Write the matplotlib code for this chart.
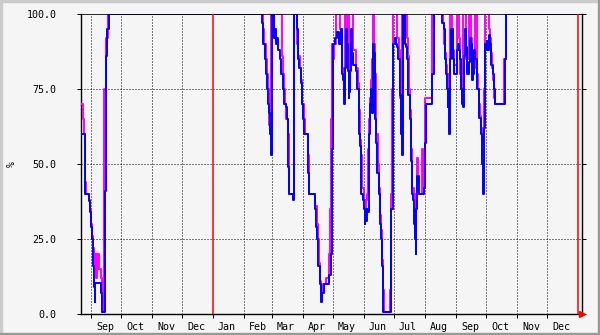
import numpy as np
import pandas as pd
import matplotlib
matplotlib.use("Agg")
import matplotlib.pyplot as plt
from matplotlib.patches import Rectangle

# time range of the graph
start = pd.Timestamp("2012-08-22")
end = pd.Timestamp("2014-01-05")

# blue series: day offset from start, value (%)
blue_days = [0, 3.5, 4, 7.7, 8.5, 9.7, 10.5, 11.7, 12.5, 13.5, 14.3, 19.7, 21, 23.7, 25, 26.3, 27.7,
             180.7, 182, 184, 185, 186, 187.3, 188, 189, 190, 190.7, 192.7, 194, 195, 196, 197.3, 198.7,
             200, 202, 203.3, 204.7, 206, 206.7, 207.3, 208, 212.3, 213.3, 216, 216.7, 217.3, 218.3,
             219.7, 220.7, 222.3, 223.3, 226.7, 227.3, 228, 234, 235.3, 236.3, 237.3, 238.7, 240, 241.3,
             243.3, 248, 249.7, 251, 251.7, 254.3, 256.3, 258.3, 259.7, 260.7, 261.3, 262.3, 263, 264,
             265, 266.3, 267, 267.7, 268.3, 269, 269.7, 270.3, 271, 271.7, 275, 276.3, 277.7, 278.3, 279,
             279.7, 280.3, 282.3, 283, 283.7, 284.3, 285, 285.7, 286.3, 287.7, 288.3, 289, 289.7, 290.3,
             291, 291.7, 292.3, 293, 293.7, 294.3, 295, 296.3, 297.7, 299, 300.3, 301, 301.7, 302.3,
             309.7, 310.3, 311.7, 312.3, 313.7, 315, 316, 317.3, 318.7, 319.7, 320.3, 321, 321.7, 322.3,
             324, 325, 326, 327.3, 328.7, 329.7, 330.7, 332, 333.3, 334, 334.7, 335, 335.3, 336, 338,
             343.3, 344, 344.7, 351.3, 352.7, 360.7, 362.7, 364, 365, 366, 366.7, 367.3, 368, 368.7,
             369.3, 370, 371.7, 373, 375.7, 377, 377.7, 379, 379.7, 380.7, 381.7, 383, 383.7, 385, 386.3,
             387.7, 389, 390.3, 391, 392.3, 393, 394.3, 395.7, 396.3, 397.7, 398.3, 399.7, 401, 402.3,
             403, 404.3, 405.7, 406.3, 407.7, 409, 410.3, 411.7, 413, 413.7, 423.7, 425, 501]
blue_vals = [60, 44, 40, 37.6, 34, 29, 25, 16, 9, 4, 10.3, 7, 0.7, 41, 86, 95, 100,
             97, 90, 85, 80, 75, 70, 67, 60, 53, 100, 92, 95, 90, 92, 88, 85,
             80, 75, 70, 69, 65, 60, 49, 40, 38, 100, 95, 88, 85, 82,
             77, 70, 65, 60, 52, 47, 40, 35, 29, 25, 16, 10, 4, 7,
             10, 13, 20, 55, 90, 92, 94, 90, 95, 87, 80, 78, 70, 82,
             95, 90, 81, 72, 74, 81, 90, 95, 87, 83, 81, 75, 65, 60, 56,
             51, 40, 38, 35, 30, 33, 31, 35, 34, 40, 60, 70, 69, 75,
             67, 83, 90, 87, 78, 65, 57, 47, 40, 30, 25, 16, 6, 0.7,
             5.7, 35, 70, 90, 92, 90, 89, 85, 73, 70, 60, 53, 80, 100,
             90, 89, 85, 73, 65, 51, 40, 38, 30, 25, 20, 25, 35, 46, 40,
             42, 57, 70, 80, 100, 97, 95, 85, 80, 75, 69, 75, 60, 80,
             85, 95, 85, 80, 88, 90, 88, 85, 75, 70, 69, 86, 95, 89, 80,
             84, 92, 90, 78, 80, 88, 85, 80, 75, 70, 65.5, 60, 50, 40,
             62, 90, 91, 88, 93, 90, 83, 80, 75, 70, 85, 100, 100]

# magenta series
pink_days = [0, 1.7, 2.7, 4, 4.7, 8, 8.7, 10, 10.7, 12, 12.7, 14.3, 14.7, 15.7, 16.3, 17.3, 18, 19.7,
             20.7, 21.3, 22.7, 23.3, 25.3, 26.7, 27.3,
             182.3, 183.3, 184.7, 185.7, 186.7, 187.7, 188.3, 189, 189.7, 200.7, 201.7, 203, 204, 205.3,
             207, 207.7, 208.3, 212.7, 213.3, 215.7, 217.3, 218.7, 220, 221.3, 222.7, 224, 227, 227.7,
             228.3, 234.3, 235.7, 236.7, 237.7, 239, 240.3, 241.7, 245, 248.3, 249.3, 250.3, 251.3, 252,
             253, 255, 259, 260.7, 261.3, 262.3, 263, 263.7, 266.3, 267, 267.7, 268.3, 272.3, 275.3,
             276.7, 278, 278.7, 279.3, 280, 280.7, 283, 284, 284.7, 286.3, 287.3, 288, 289, 290, 291.3,
             291.7, 293, 294, 294.7, 295.3, 296.7, 298, 299.3, 300.3, 301.3, 302, 302.7, 303.3, 309,
             309.7, 311, 312, 316, 317.7, 318.7, 319.3, 320, 320.7, 321.3, 326, 327, 328, 329, 330, 331,
             332.7, 333.7, 334.3, 335, 335.7, 337.3, 338.3, 341.3, 342, 343.3, 343.7, 344.3, 350.7,
             351.3, 362, 363.3, 364.3, 365.3, 366.3, 367, 367.7, 368.3, 369, 371.3, 372, 373.3, 375.7,
             378, 378.7, 379.3, 380.3, 381.3, 382, 384.7, 385.3, 386.7, 388, 390, 391, 392, 393.7, 395.7,
             396.3, 397.3, 398, 399, 400, 401, 402.3, 403, 404.3, 408.3, 409, 410, 411.3, 412.3, 413.3,
             414, 423, 424.7, 501]
pink_vals = [70, 65, 60, 44, 40, 38, 35, 30, 26, 22, 15, 20, 12, 20, 15, 20, 15, 12,
             3, 0.7, 30, 75, 92, 98, 100,
             95, 90, 85, 80, 75, 70, 63, 73, 100, 86, 80, 75, 70, 65,
             60, 50, 40, 40, 100, 90, 86, 82, 78, 70, 65, 60, 53, 47,
             40, 36, 30, 25, 17, 11, 7, 10, 12, 20, 35, 65, 90, 85,
             90, 100, 95, 90, 82, 80, 75, 100, 92, 85, 80, 100, 88, 82,
             77, 68, 62, 58, 53, 42, 38, 35, 38, 40, 55, 65, 72, 78, 85,
             100, 90, 80, 70, 60, 50, 42, 33, 28, 18, 8, 2, 0.7, 8,
             40, 75, 100, 92, 88, 78, 72, 65, 60, 100, 92, 86, 75, 68, 55, 42,
             40, 34, 28, 40, 52, 42, 40, 55, 42, 45, 60, 72, 80,
             100, 97, 90, 87, 83, 78, 72, 80, 68, 100, 95, 88, 83, 100,
             92, 88, 80, 75, 72, 100, 92, 85, 85, 100, 92, 85, 82, 100, 88,
             80, 75, 70, 66, 62, 57, 60, 75, 100, 95, 92, 87, 82, 78,
             72, 70, 85, 100, 100]

month_labels = ["Sep", "Oct", "Nov", "Dec", "Jan", "Feb", "Mar", "Apr", "May", "Jun",
                "Jul", "Aug", "Sep", "Oct", "Nov", "Dec"]
y_ticks = [0, 25, 50, 75, 100]
y_labels = ["0.0", "25.0", "50.0", "75.0", "100.0"]
year_marks = ["2013-01-01", "2014-01-01"]

W, H = 600, 335
fig = plt.figure(figsize=(W / 100, H / 100), dpi=100)
fig.patch.set_facecolor("#F5F5F5")

# 3d-ish border of the canvas
fig.patches.append(Rectangle((0, 0), 2 / W, 1, transform=fig.transFigure, color="#CBCBCB", zorder=0))
fig.patches.append(Rectangle((0, 1 - 2 / H), 1, 2 / H, transform=fig.transFigure, color="#CBCBCB", zorder=0))
fig.patches.append(Rectangle((1 - 2 / W, 0), 2 / W, 1, transform=fig.transFigure, color="#999999", zorder=0))
fig.patches.append(Rectangle((0, 0), 1, 2 / H, transform=fig.transFigure, color="#999999", zorder=0))

ax = fig.add_axes([81 / W, (H - 314) / H, (582 - 81) / W, 300 / H])
ax.set_facecolor("#F5F5F5")

mono = "DejaVu Sans Mono"
px = 0.72  # one pixel in points

# grid
months = pd.date_range("2012-09-01", "2013-12-01", freq="MS")
for m in months:
    if m.month != 1:
        ax.axvline(m, color="black", lw=px, ls=(0, (1, 2)), zorder=1)
for v in y_ticks[1:-1]:
    ax.axhline(v, color="black", lw=px, ls=(0, (1, 2)), zorder=1)

blue_x = start + pd.to_timedelta(blue_days, unit="D")
pink_x = start + pd.to_timedelta(pink_days, unit="D")
ax.plot(pink_x, pink_vals, drawstyle="steps-post", color="#FF00FF", lw=1.4, zorder=3)
ax.plot(blue_x, blue_vals, drawstyle="steps-post", color="#0000FF", lw=1.4, zorder=4)

ax.axhline(100, color="black", lw=1.2, zorder=5)
for d in year_marks:
    ax.axvline(pd.Timestamp(d), color="#FF0000", lw=1.1, zorder=5)

ax.set_xlim(start, end)
ax.set_ylim(0, 100)

for s in ax.spines.values():
    s.set_color("black")
    s.set_linewidth(1.0)
ax.spines["top"].set_visible(False)

# ticks
ax.set_xticks(months)
ax.set_xticklabels([])
ax.set_xticks(months + pd.Timedelta(days=14), minor=True)
ax.set_xticklabels(month_labels, minor=True, fontfamily=mono, fontsize=7.2)
ax.tick_params(axis="x", which="major", length=3, width=px, direction="out")
ax.tick_params(axis="x", which="minor", length=0, pad=5.5)
ax.set_yticks(y_ticks)
ax.set_yticklabels(y_labels, fontfamily=mono, fontsize=7.2)
ax.tick_params(axis="y", length=3, width=px, direction="out", pad=14.5, right=True)

# axis arrow
ax.plot([end], [0], marker=">", color="#FF0000", markersize=4, clip_on=False, zorder=6)

fig.text(12 / W, 1 - 164 / H, "%", rotation=90, fontfamily=mono, fontsize=7.2,
         ha="center", va="center")

fig.savefig("out.png", dpi=100, facecolor=fig.get_facecolor())
